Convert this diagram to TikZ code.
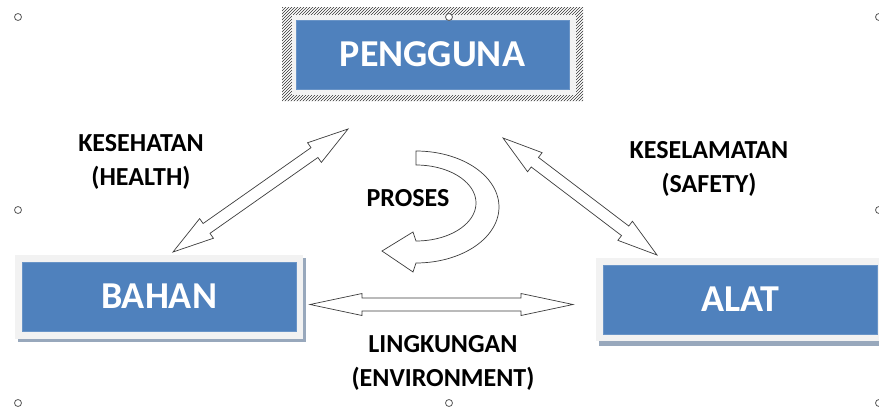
\documentclass[tikz,border=0pt]{standalone}
\usepackage{fontspec}
\setmainfont{Carlito}
\usetikzlibrary{calc,patterns}
\definecolor{boxblue}{HTML}{4F81BD}
\definecolor{framegray}{HTML}{F2F2F2}
\definecolor{shadowgray}{HTML}{98A8BC}
\definecolor{arrowline}{HTML}{3C3C3C}
% block double arrow: #1 tip A, #2 tip B, #3 head length, #4 head half width, #5 shaft half width
\newcommand\blockarr[5]{%
  \draw[blockarrow] (#1)
    -- ($($(#1)!#3!(#2)$)!#4!90:(#2)$)
    -- ($($(#1)!#3!(#2)$)!#5!90:(#2)$)
    -- ($($(#2)!#3!(#1)$)!#5!-90:(#1)$)
    -- ($($(#2)!#3!(#1)$)!#4!-90:(#1)$)
    -- (#2)
    -- ($($(#2)!#3!(#1)$)!#4!90:(#1)$)
    -- ($($(#2)!#3!(#1)$)!#5!90:(#1)$)
    -- ($($(#1)!#3!(#2)$)!#5!-90:(#2)$)
    -- ($($(#1)!#3!(#2)$)!#4!-90:(#2)$)
    -- cycle;}
\begin{document}
\begin{tikzpicture}[x=1pt,y=-1pt,
  bluebox/.style={fill=boxblue, draw=boxblue!85!white, line width=0.5pt,
    minimum width=273pt, minimum height=69pt, inner sep=0pt,
    font=\fontsize{38}{44}\selectfont\bfseries, text=white},
  lbl/.style={font=\fontsize{26}{34}\selectfont\bfseries, align=center, anchor=north, inner sep=0pt},
  blockarrow/.style={draw=arrowline, fill=white, line width=0.7pt, line join=miter},
  handle/.style={draw=black!65, fill=white, line width=0.8pt}]
\useasboundingbox (0,0) rectangle (879,407);

% PENGGUNA
\fill[pattern=north east lines, pattern color=black!80, even odd rule]
  (282,7) rectangle (583,101) (292,15) rectangle (576,95);
\fill[framegray] (292,15) rectangle (576,95);
\node[bluebox] (pengguna) at (432.5,54.5) {PENGGUNA};

% BAHAN
\fill[shadowgray] (18,258) rectangle (306,342);
\fill[framegray] (15,255) rectangle (303,339);
\node[bluebox, minimum width=274pt] (bahan) at (159,296.5) {BAHAN};

% ALAT
\fill[shadowgray] (599,262) rectangle (882,346);
\fill[framegray] (596,258) rectangle (880,341);
\node[bluebox, minimum width=274pt] (alat) at (740,299.5) {ALAT};

% arrow end points
\coordinate (hl1) at (173,252);
\coordinate (hl2) at (348,129);
\coordinate (sr1) at (503,138);
\coordinate (sr2) at (657,255);
\coordinate (en1) at (310,304.5);
\coordinate (en2) at (573,304.5);

\blockarr{hl1}{hl2}{41pt}{12pt}{6pt}
\blockarr{sr1}{sr2}{40pt}{12pt}{6pt}
\blockarr{en1}{en2}{52pt}{11pt}{6.5pt}

% curved arrow (PROSES)
\draw[blockarrow]
  (416,151)
  -- plot[domain=90:-90, samples=60] ({416+83*cos(\x)}, {207-56*sin(\x)})
  -- (413,272) -- (382,251) -- (413,232) -- (416,241)
  -- plot[domain=-90:90, samples=60] ({416+60*cos(\x)}, {203-38*sin(\x)})
  -- cycle;

% labels
\node[lbl] (health) at (141,134.5) {KESEHATAN\\(HEALTH)};
\node[lbl] (safety) at (709,141.5) {KESELAMATAN\\(SAFETY)};
\node[lbl] (proses) at (408,189.5) {PROSES};
\node[lbl] (env) at (443,335) {LINGKUNGAN\\(ENVIRONMENT)};

% selection handles
\foreach \hx/\hy [count=\i] in {18/17,449/17,879/17,18/210,879/210,18/403,449/403,879/403}
  \node[handle, circle, minimum size=7pt, inner sep=0pt] (h\i) at (\hx,\hy) {};
\end{tikzpicture}
\end{document}
